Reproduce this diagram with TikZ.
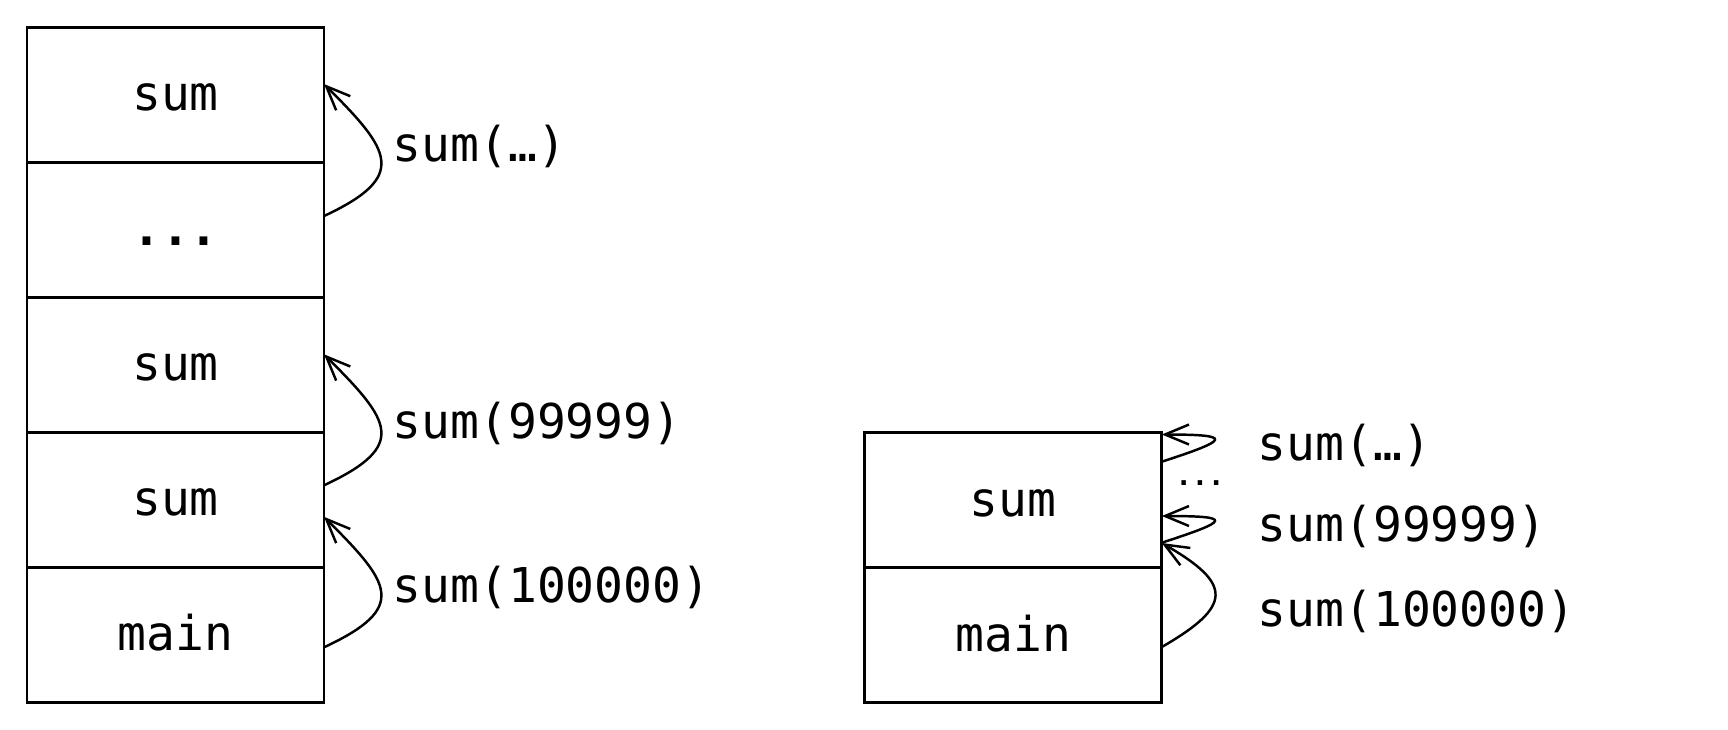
\documentclass[tikz,border=0pt]{standalone}
\usepackage{fontspec}
\setmainfont{DejaVu Sans Mono}
\usetikzlibrary{arrows.meta,positioning}

\begin{document}
\begin{tikzpicture}[font=\fontsize{13.65pt}{16pt}\selectfont,
  frame/.style={draw,line width=0.75pt,minimum width=2.97cm,minimum height=1.35cm,
    inner sep=0pt,outer sep=0pt,text height=1.0em,text depth=0.08em},
  call/.style={-{Straight Barb[length=0.24cm,width=0.2cm]},line width=0.7pt},
  lbl/.style={anchor=base west,inner sep=0pt}]
  \useasboundingbox (0,0) rectangle (17.28,-7.29);
  % deep stack
  \node[frame] (Lsum1) at (1.755,-0.948) {sum};
  \node[frame,below=0pt of Lsum1] (Ldots) {\bfseries ...};
  \node[frame,below=0pt of Ldots] (Lsum2) {sum};
  \node[frame,below=0pt of Lsum2] (Lsum3) {sum};
  \node[frame,below=0pt of Lsum3] (Lmain) {main};
  \draw[call] ([yshift=0.138cm]Ldots.east) to[out=25,in=-45,distance=0.94cm] ([yshift=0.108cm]Lsum1.east);
  \draw[call] ([yshift=0.145cm]Lsum3.east) to[out=25,in=-45,distance=0.94cm] ([yshift=0.105cm]Lsum2.east);
  \draw[call] ([yshift=-0.125cm]Lmain.east) to[out=25,in=-45,distance=0.94cm] ([yshift=-0.17cm]Lsum3.east);
  \node[lbl] (Lcall1) at (3.92,-1.617) {sum(…)};
  \node[lbl] (Lcall2) at (3.92,-4.38) {sum(99999)};
  \node[lbl] (Lcall3) at (3.92,-6.02) {sum(100000)};
  % reused frame
  \node[frame] (Rsum) at (10.133,-5.0) {sum};
  \node[frame,below=0pt of Rsum] (Rmain) {main};
  \draw[call] ([yshift=0.383cm]Rsum.east) to[out=18,in=0,distance=0.72cm] ([yshift=0.655cm]Rsum.east);
  \draw[call] ([yshift=-0.427cm]Rsum.east) to[out=18,in=0,distance=0.72cm] ([yshift=-0.16cm]Rsum.east);
  \draw[call] ([yshift=-0.12cm]Rmain.east) to[out=30,in=-30,distance=0.82cm] ([yshift=-0.43cm]Rsum.east);
  \node[font=\fontsize{7.7pt}{9pt}\selectfont\bfseries,inner sep=0pt] (Rdots) at (12.0,-4.83) {...};
  \node[lbl] (Rcall1) at (12.57,-4.60) {sum(…)};
  \node[lbl] (Rcall2) at (12.57,-5.41) {sum(99999)};
  \node[lbl] (Rcall3) at (12.57,-6.26) {sum(100000)};
\end{tikzpicture}
\end{document}
